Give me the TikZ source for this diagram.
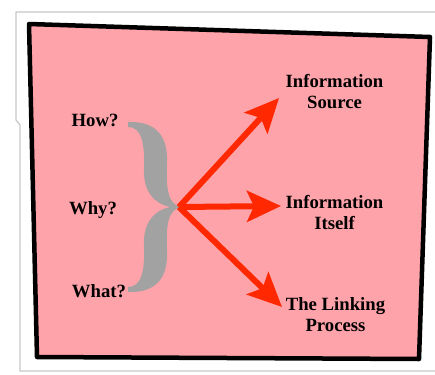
\documentclass[tikz,border=0pt]{standalone}
\usepackage{fontspec}
\setmainfont{Liberation Serif}
\usetikzlibrary{arrows.meta}
\definecolor{bgpink}{RGB}{255,163,170}
\definecolor{arrred}{RGB}{255,40,0}
\definecolor{bracegray}{RGB}{162,162,162}
\tikzset{
  lbl/.style={font=\bfseries\fontsize{18.7}{21}\selectfont, align=center, inner sep=0pt},
  bigarrow/.style={draw=arrred, line width=6pt, -{Stealth[length=34pt, width=31pt, inset=7pt]}},
}
\begin{document}
\begin{tikzpicture}[x=1pt,y=-1pt]
\useasboundingbox (0,0) rectangle (435,374);
\fill[white] (0,0) rectangle (435,374);
% paper
\draw[black!22, line width=1.2pt, fill=white] (440,12) -- (16,12) -- (16,120) -- (20,125) -- (20,371) -- (440,371);
% frame
\draw[black, line width=4.5pt, fill=bgpink, line join=round] (29,24) -- (430,37) -- (419,359) -- (37,357) -- cycle;
% brace
\fill[bracegray] (128,122) .. controls (158,121) and (168,138) .. (167,163)
  .. controls (166,190) and (168,204) .. (181,207)
  .. controls (168,210) and (166,224) .. (167,251)
  .. controls (168,276) and (158,293) .. (128,292)
  -- (128,287)
  .. controls (141,287) and (145,272) .. (144,245)
  .. controls (143,222) and (155,210) .. (170,207)
  .. controls (155,204) and (143,192) .. (144,169)
  .. controls (145,142) and (141,127) .. (128,127) -- cycle;
% labels
\node[lbl] (how) at (95,120) {How?};
\node[lbl] (why) at (93,210) {Why?};
\node[lbl] (what) at (99,291) {What?};
\node[lbl] (src) at (334.5,92) {Information\\Source};
\node[lbl] (its) at (334.5,213) {Information\\Itself};
\node[lbl] (lnk) at (335.5,315) {The Linking\\Process};
% arrows
\coordinate (o) at (179,207);
\coordinate (t1) at (279,98);
\coordinate (t2) at (281,206);
\coordinate (t3) at (282,307);
\draw[bigarrow] (o) -- (t1);
\draw[bigarrow] (o) -- (t2);
\draw[bigarrow] (o) -- (t3);
\end{tikzpicture}
\end{document}
